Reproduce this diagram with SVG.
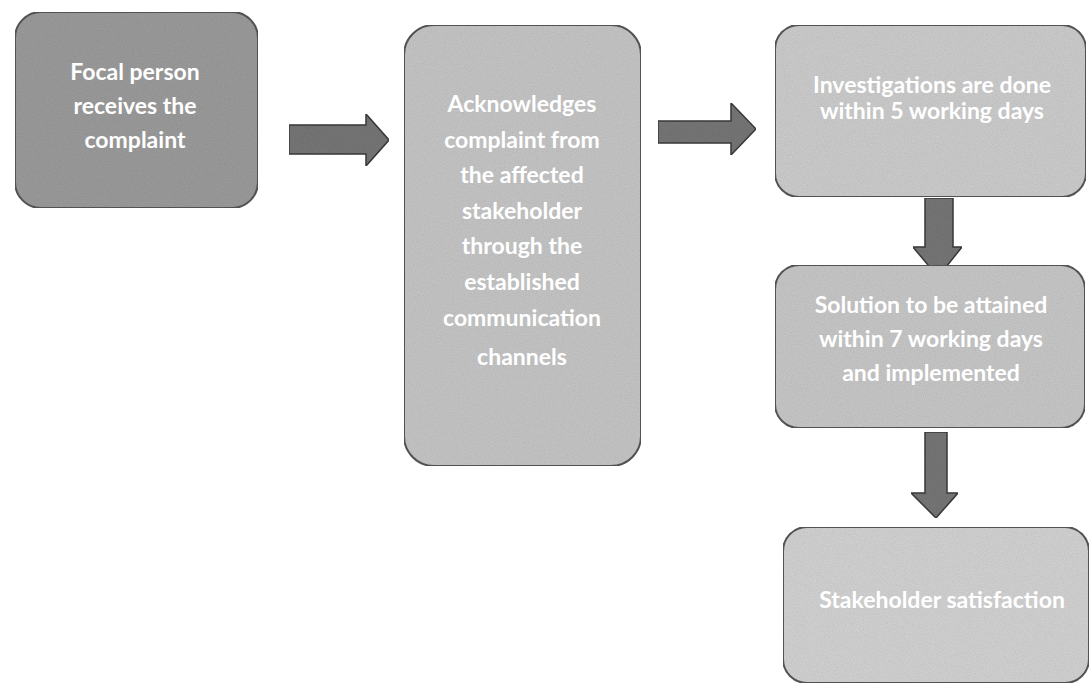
<svg xmlns="http://www.w3.org/2000/svg" width="1091" height="684" viewBox="0 0 1091 684">
<style>
.box{stroke:#555555;stroke-width:2}
.t{font-family:Lato,"Open Sans","Liberation Sans",sans-serif;font-weight:bold;font-size:23px;fill:#ffffff;text-anchor:middle}
.arr{fill:#747474;stroke:#3a3a3a;stroke-width:1.5;stroke-linejoin:miter}
</style>
<defs>
<filter id="grain" x="0" y="0" width="100%" height="100%">
<feTurbulence type="fractalNoise" baseFrequency="0.9" numOctaves="2" seed="3" result="n"/>
<feColorMatrix in="n" type="matrix" values="0 0 0 0 0  0 0 0 0 0  0 0 0 0 0  0 0 0 0.25 -0.08" result="nm"/>
<feComposite in="nm" in2="SourceGraphic" operator="in" result="g"/>
<feMerge><feMergeNode in="SourceGraphic"/><feMergeNode in="g"/></feMerge>
</filter>
</defs>
<rect width="1091" height="684" fill="#ffffff"/>
<g id="connectors">
<path class="arr" d="M289,125 L366,125 L366,114 L389,140 L366,166 L366,154 L289,154 Z" filter="url(#grain)"/>
<path class="arr" d="M658,121 L731,121 L731,103 L756,129 L731,155 L731,143 L658,143 Z" filter="url(#grain)"/>
<path class="arr" d="M925,198 L953,198 L953,247 L962,247 L938,277 L913,247 L925,247 Z" filter="url(#grain)"/>
<path class="arr" d="M925,432 L947,432 L947,493 L958,493 L936,518 L911,493 L925,493 Z" filter="url(#grain)"/>
</g>
<g id="node1">
<rect class="box" x="15" y="12" width="243" height="196" rx="26" fill="#999999" filter="url(#grain)"/>
<text class="t" x="135" y="80">Focal person</text>
<text class="t" x="135" y="114">receives the</text>
<text class="t" x="135" y="148">complaint</text>
</g>
<g id="node2">
<rect class="box" x="404" y="25" width="237" height="441" rx="30" fill="#c2c2c2" filter="url(#grain)"/>
<text class="t" x="522" y="112">Acknowledges</text>
<text class="t" x="522" y="148">complaint from</text>
<text class="t" x="522" y="183">the affected</text>
<text class="t" x="522" y="219">stakeholder</text>
<text class="t" x="522" y="254">through the</text>
<text class="t" x="522" y="290">established</text>
<text class="t" x="522" y="326">communication</text>
<text class="t" x="522" y="365">channels</text>
</g>
<g id="node3">
<rect class="box" x="775" y="25" width="311" height="172" rx="24" fill="#c9c9c9" filter="url(#grain)"/>
<text class="t" x="932" y="93">Investigations are done</text>
<text class="t" x="932" y="119">within 5 working days</text>
</g>
<g id="node4">
<rect class="box" x="775" y="265" width="310" height="163" rx="24" fill="#c4c4c4" filter="url(#grain)"/>
<text class="t" x="931" y="313">Solution to be attained</text>
<text class="t" x="931" y="347">within 7 working days</text>
<text class="t" x="931" y="381">and implemented</text>
</g>
<g id="node5">
<rect class="box" x="783" y="527" width="306" height="156" rx="24" fill="#cfcfcf" filter="url(#grain)"/>
<text class="t" x="942" y="608">Stakeholder satisfaction</text>
</g>
</svg>
